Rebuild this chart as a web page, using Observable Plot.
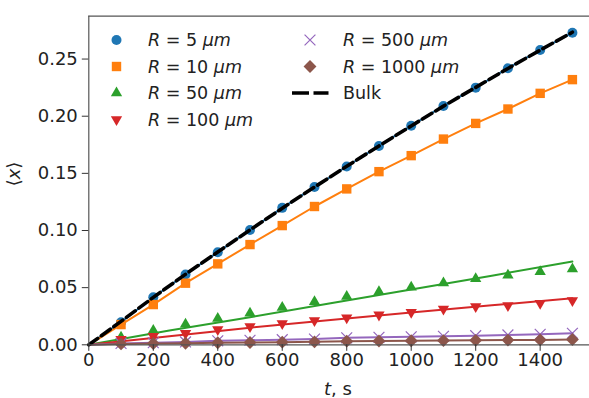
<!DOCTYPE html>
<html>
<head>
<meta charset="utf-8">
<script src="https://cdn.jsdelivr.net/npm/d3@7"></script>
<script src="https://cdn.jsdelivr.net/npm/@observablehq/plot@0.6"></script>
<style>
  html, body { margin: 0; padding: 0; background: #fff; }
  #chart { width: 589px; height: 398px; overflow: hidden; }
  svg { font-family: "DejaVu Sans", sans-serif; }
</style>
</head>
<body>
<div id="chart"></div>
<script>
// ---- data ----
const t = [100, 200, 300, 400, 500, 600, 700, 800, 900, 1000, 1100, 1200, 1300, 1400, 1500];
const r5    = [0.0198, 0.0416, 0.0615, 0.0810, 0.1005, 0.1198, 0.1380, 0.1560, 0.1740, 0.1917, 0.2090, 0.2250, 0.2420, 0.2580, 0.2730];
const r10   = [0.0177, 0.0352, 0.0539, 0.0708, 0.0877, 0.1043, 0.1210, 0.1364, 0.1515, 0.1655, 0.1800, 0.1937, 0.2063, 0.2200, 0.2320];
const r50   = [0.0066, 0.0125, 0.0180, 0.0230, 0.0276, 0.0326, 0.0376, 0.0422, 0.0464, 0.0504, 0.0540, 0.0577, 0.0609, 0.0639, 0.0664];
const r100  = [0.0048, 0.0074, 0.0100, 0.0134, 0.0160, 0.0187, 0.0212, 0.0236, 0.0262, 0.0285, 0.0313, 0.0335, 0.0344, 0.0364, 0.0387];
const r500  = [0.0012, 0.0018, 0.0025, 0.0035, 0.0040, 0.0045, 0.0050, 0.0061, 0.0065, 0.0070, 0.0075, 0.0080, 0.0086, 0.0092, 0.0101];
const r1000 = [0.0008, 0.0011, 0.0014, 0.0018, 0.0020, 0.0023, 0.0026, 0.0032, 0.0033, 0.0035, 0.0037, 0.0039, 0.0041, 0.0043, 0.0046];

// fitted curves where they depart from the markers
const tFit   = [0, 250, 500, 750, 1000, 1250, 1500];
const fit50  = [0, 0.0125, 0.0241, 0.0364, 0.0483, 0.0605, 0.0728];
const fit100 = [0, 0.0075, 0.0150, 0.0218, 0.0283, 0.0345, 0.0407];

// bulk curve
const tBulk = [0, 100, 200, 300, 400, 500, 600, 700, 800, 900, 1000, 1100, 1200, 1300, 1400, 1500];
const bulk  = [0, 0.0205, 0.0415, 0.0617, 0.0812, 0.1005, 0.1195, 0.1380, 0.1562, 0.1740, 0.1915, 0.2088, 0.2252, 0.2418, 0.2578, 0.2735];

const xTicks = [0, 200, 400, 600, 800, 1000, 1200, 1400];
const yTicks = [0, 0.05, 0.10, 0.15, 0.20, 0.25];
const labels = ["5", "10", "50", "100", "500", "1000"];

// ---- symbols ----
const invTriangle = {
  draw(context, size) {
    const s3 = Math.sqrt(3);
    const y = Math.sqrt(size / (s3 * 3));
    context.moveTo(0, 2 * y);
    context.lineTo(-s3 * y, -y);
    context.lineTo(s3 * y, -y);
    context.closePath();
  }
};

const series = [
  {vals: r5,    fit: null,   color: "#1f77b4", symbol: d3.symbolCircle,   r: 5.0, stroked: false},
  {vals: r10,   fit: null,   color: "#ff7f0e", symbol: d3.symbolSquare,   r: 5.3, stroked: false},
  {vals: r50,   fit: fit50,  color: "#2ca02c", symbol: d3.symbolTriangle, r: 4.2, stroked: false},
  {vals: r100,  fit: fit100, color: "#d62728", symbol: invTriangle,       r: 4.2, stroked: false},
  {vals: r500,  fit: null,   color: "#9467bd", symbol: d3.symbolTimes,    r: 5.0, stroked: true},
  {vals: r1000, fit: null,   color: "#8c564b", symbol: d3.symbolDiamond2, r: 5.8, stroked: false}
];
series.forEach((s, i) => s.label = labels[i]);

const marks = [];
series.forEach(s => {
  const lineData = s.fit
    ? tFit.map((tt, i) => ({t: tt, v: s.fit[i]}))
    : [{t: 0, v: 0}].concat(t.map((tt, i) => ({t: tt, v: s.vals[i]})));
  marks.push(Plot.line(lineData, {x: "t", y: "v", stroke: s.color, strokeWidth: 2}));
  const pts = t.map((tt, i) => ({t: tt, v: s.vals[i]}));
  if (s.stroked) {
    marks.push(Plot.dot(pts, {x: "t", y: "v", symbol: s.symbol, r: s.r, stroke: s.color, strokeWidth: 1.2, fill: "none"}));
  } else {
    marks.push(Plot.dot(pts, {x: "t", y: "v", symbol: s.symbol, r: s.r, fill: s.color, stroke: "none"}));
  }
});
marks.push(Plot.line(tBulk.map((tt, i) => ({t: tt, v: bulk[i]})),
  {x: "t", y: "v", stroke: "#000", strokeWidth: 3.6, strokeDasharray: "11,4.5"}));

// frame (left, bottom, top)
marks.push(Plot.ruleX([0], {stroke: "#555", strokeWidth: 1.2}));
marks.push(Plot.ruleY([0, 0.2875], {stroke: "#555", strokeWidth: 1.2}));

marks.push(Plot.axisX(xTicks, {tickSize: 6.5, tickPadding: 2, fontSize: 18, label: null, tickFormat: d3.format("d"), stroke: "#333", color: "#222"}));
marks.push(Plot.axisY(yTicks, {tickSize: 6.5, tickPadding: 4.5, fontSize: 18, label: null, tickFormat: d3.format(".2f"), stroke: "#333", color: "#222"}));

const chart = Plot.plot({
  width: 589,
  height: 398,
  marginLeft: 88.3,
  marginRight: 0,
  marginTop: 15.7,
  marginBottom: 53.7,
  x: {domain: [0, 1553]},
  y: {domain: [0, 0.2875]},
  style: {fontFamily: "DejaVu Sans, sans-serif", fontSize: "18px", background: "#fff", color: "#222"},
  marks
});
document.getElementById("chart").appendChild(chart);

// ---- axis titles & legend ----
const svg = d3.select(chart);
const yl = svg.append("text")
  .attr("transform", "translate(20,174) rotate(-90)")
  .attr("text-anchor", "middle")
  .attr("font-size", 18).attr("fill", "#222");
yl.append("tspan").text("\u27E8");
yl.append("tspan").attr("font-style", "italic").text("x");
yl.append("tspan").text("\u27E9");

const xl = svg.append("text")
  .attr("x", 338).attr("y", 395)
  .attr("text-anchor", "middle")
  .attr("font-size", 18).attr("fill", "#222");
xl.append("tspan").attr("font-style", "italic").text("t");
xl.append("tspan").text(", s");

const lg = svg.append("g").attr("font-size", 17.5).attr("fill", "#222").attr("text-anchor", "start");
const rowY = [40, 66.5, 93, 119.5];
const colMarkX = [116.5, 310], colTextX = [148, 343];
series.forEach((s, i) => {
  const col = i < 4 ? 0 : 1, row = i < 4 ? i : i - 4;
  const size = Math.PI * s.r * s.r;
  const p = lg.append("path")
    .attr("transform", `translate(${colMarkX[col]},${rowY[row]})`)
    .attr("d", d3.symbol(s.symbol, size)());
  if (s.stroked) p.attr("fill", "none").attr("stroke", s.color).attr("stroke-width", 1.2);
  else p.attr("fill", s.color);
  const tx = lg.append("text").attr("x", colTextX[col]).attr("y", rowY[row]).attr("dy", "0.36em").attr("text-anchor", "start");
  tx.append("tspan").attr("font-style", "italic").text("R");
  tx.append("tspan").text(" = " + s.label + " ");
  tx.append("tspan").attr("font-style", "italic").text("\u03BCm");
});
lg.append("line")
  .attr("x1", 292).attr("x2", 328.5).attr("y1", rowY[2]).attr("y2", rowY[2])
  .attr("stroke", "#000").attr("stroke-width", 3.6).attr("stroke-dasharray", "17,4.5");
lg.append("text").attr("x", 343).attr("y", rowY[2]).attr("dy", "0.36em").attr("text-anchor", "start").text("Bulk");
</script>
</body>
</html>
